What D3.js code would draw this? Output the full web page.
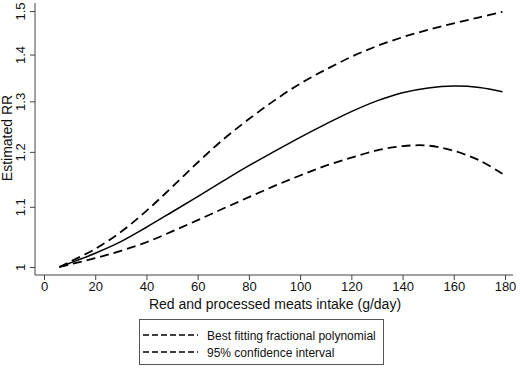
<!DOCTYPE html>
<html>
<head>
<meta charset="utf-8">
<script src="https://cdn.jsdelivr.net/npm/d3@7"></script>
<style>
  body { margin: 0; background: #fff; }
  svg { display: block; font-family: "Liberation Sans", Arial, sans-serif; }
</style>
</head>
<body>
<div id="chart"></div>
<script>
// intake (g/day) at which the curves were read
const intake = [6, 10, 20, 30, 40, 50, 60, 70, 80, 90, 100, 110, 120, 130, 140, 150, 160, 170, 179];
// best fitting fractional polynomial
const rrFit   = [1.000, 1.006, 1.022, 1.041, 1.065, 1.091, 1.118, 1.146, 1.174, 1.201, 1.228, 1.254, 1.279, 1.301, 1.318, 1.328, 1.332, 1.329, 1.320];
// 95% CI
const rrUpper = [1.000, 1.008, 1.029, 1.057, 1.093, 1.135, 1.180, 1.224, 1.264, 1.302, 1.337, 1.367, 1.395, 1.419, 1.439, 1.456, 1.471, 1.485, 1.498];
const rrLower = [1.000, 1.004, 1.014, 1.026, 1.040, 1.058, 1.077, 1.097, 1.117, 1.137, 1.156, 1.174, 1.189, 1.203, 1.211, 1.212, 1.202, 1.184, 1.159];

const xTicks = [0, 20, 40, 60, 80, 100, 120, 140, 160, 180];
const yTicks = [1, 1.1, 1.2, 1.3, 1.4, 1.5];
const legendLabels = ["Best fitting fractional polynomial", "95% confidence interval"];

const W = 520, H = 369;
const svg = d3.select("#chart").append("svg").attr("width", W).attr("height", H);

const x = d3.scaleLinear().domain([0, 180]).range([44, 505]);
const y = d3.scaleLog().domain([1, 1.5]).range([267, 11]);

// axes
const xAxis = svg.append("g").attr("transform", "translate(0,275)")
  .call(d3.axisBottom(x).tickValues(xTicks).tickSize(5).tickPadding(2).tickFormat(d3.format("d")));
xAxis.select(".domain").attr("d", "M35,0H513");
xAxis.selectAll("text").attr("font-size", 13).attr("fill", "#111");

const yAxis = svg.append("g").attr("transform", "translate(35,0)")
  .call(d3.axisLeft(y).tickValues(yTicks).tickSize(5).tickFormat(d => String(+d.toFixed(1))));
yAxis.select(".domain").attr("d", "M0,3V275");
yAxis.selectAll(".tick text")
  .attr("font-size", 13).attr("fill", "#111")
  .attr("text-anchor", "middle").attr("x", null).attr("y", 0).attr("dy", null)
  .attr("transform", "translate(-10,0) rotate(-90)");
svg.selectAll(".domain, .tick line").attr("stroke", "#444");

svg.append("text").attr("x", 275).attr("y", 309).attr("text-anchor", "middle")
  .attr("font-size", 14).attr("fill", "#111").text("Red and processed meats intake (g/day)");
svg.append("text").attr("transform", "translate(12,138) rotate(-90)").attr("text-anchor", "middle")
  .attr("font-size", 14).attr("fill", "#111").text("Estimated RR");

// curves
const line = d3.line().x(d => x(d[0])).y(d => y(d[1])).curve(d3.curveCatmullRom.alpha(0.5));
const series = [
  { v: rrUpper, dash: "9,5", w: 1.8 },
  { v: rrLower, dash: "9,5", w: 1.8 },
  { v: rrFit, dash: null, w: 1.5 }
];
series.forEach(s => {
  svg.append("path")
    .datum(intake.map((d, i) => [d, s.v[i]]))
    .attr("d", line)
    .attr("fill", "none")
    .attr("stroke", "#000")
    .attr("stroke-width", s.w)
    .attr("stroke-dasharray", s.dash);
});

// legend (both keys are dashed in the original)
const lg = svg.append("g");
lg.append("rect").attr("x", 139.5).attr("y", 319.5).attr("width", 244).attr("height", 45)
  .attr("fill", "#fff").attr("stroke", "#555");
legendLabels.forEach((t, i) => {
  const ly = 335 + i * 17;
  lg.append("line").attr("x1", 143).attr("x2", 198).attr("y1", ly).attr("y2", ly)
    .attr("stroke", "#000").attr("stroke-width", 1.4).attr("stroke-dasharray", "6,3");
  lg.append("text").attr("x", 207).attr("y", ly + 4.5).attr("font-size", 12).attr("fill", "#111").text(t);
});
</script>
</body>
</html>
